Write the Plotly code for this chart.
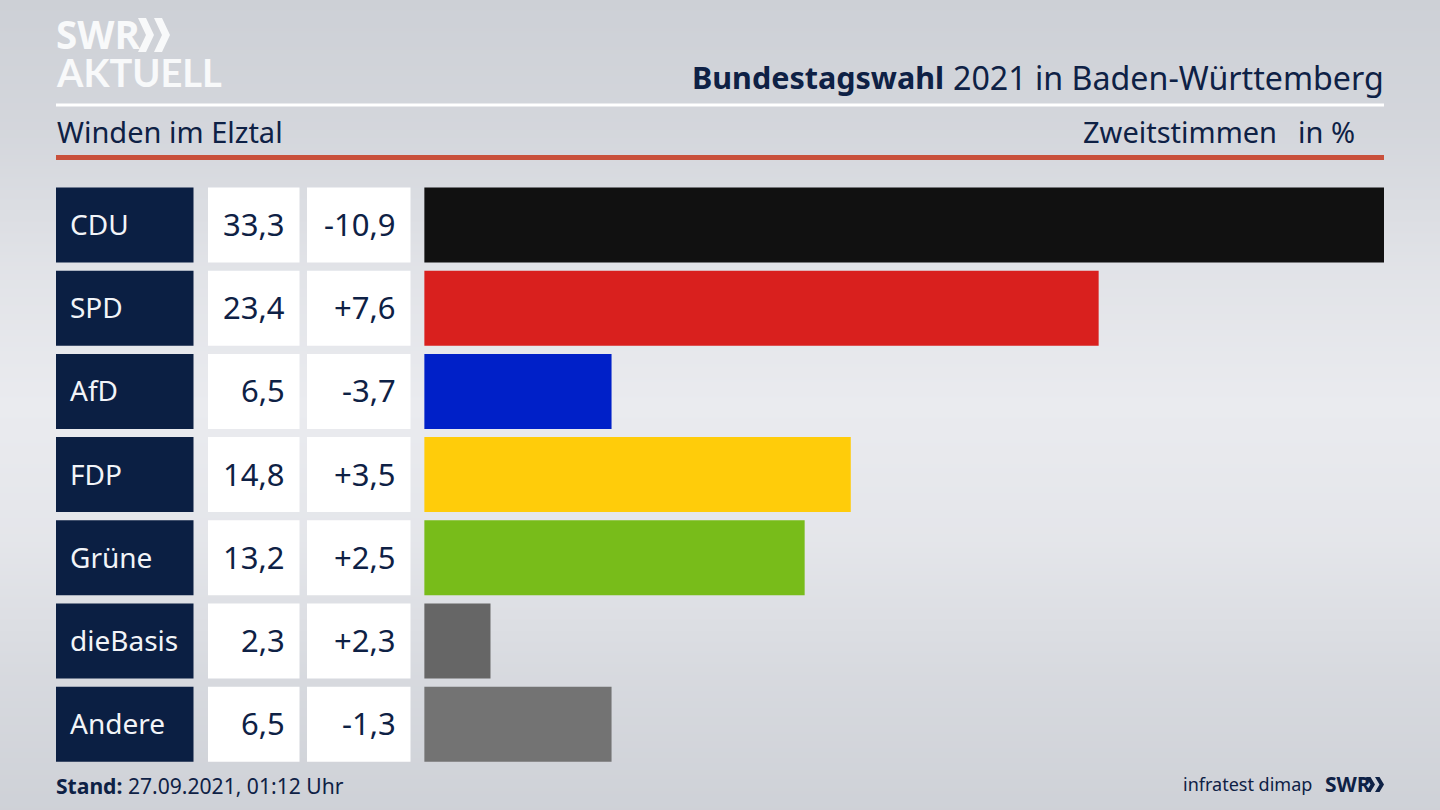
import plotly.graph_objects as go

W, H = 1440, 810
parties = ["CDU", "SPD", "AfD", "FDP", "Grüne", "dieBasis", "Andere"]
shares = [33.3, 23.4, 6.5, 14.8, 13.2, 2.3, 6.5]
changes = ["-10,9", "+7,6", "-3,7", "+3,5", "+2,5", "+2,3", "-1,3"]
bar_colors = ["#111111", "#d9201e", "#0020c8", "#ffcc0a", "#78bc1a", "#666666", "#737373"]

grad_y = [0, 135, 270, 405, 540, 675, 810]
grad_z = [0.0, 0.25, 0.7, 1.0, 0.8, 0.35, 0.05]
grad_x = [0, 1440]

NAVY = "#0e2145"
FONT = "Noto Sans"
TOP, PITCH, GAP = 187.5, 83.2, 8.2
y_top = TOP - GAP / 2
y_bot = y_top + PITCH * len(parties)

fig = go.Figure()
# background gradient
fig.add_trace(go.Heatmap(
    x=grad_x, y=grad_y, z=[[v, v] for v in grad_z], zsmooth="best",
    colorscale=[[0, "#cdd0d6"], [1, "#eaebef"]], showscale=False, hoverinfo="skip",
    xaxis="x", yaxis="y"))
# table cells
for x0, x1, col in [(56, 193.5, "#0b1f43"), (208, 299.5, "#ffffff"), (307, 410.5, "#ffffff")]:
    fig.add_trace(go.Bar(
        y=parties, x=[x1 - x0] * len(parties), base=[x0] * len(parties), orientation="h",
        marker=dict(color=col, line_width=0), xaxis="x3", yaxis="y2", hoverinfo="skip"))
# share bars
fig.add_trace(go.Bar(
    y=parties, x=shares, orientation="h", marker=dict(color=bar_colors, line_width=0),
    xaxis="x2", yaxis="y2", hovertemplate="%{y}: %{x}<extra></extra>"))

ann = []
def cell(x, y, t, anchor, color=NAVY, size=31):
    ann.append(dict(x=x, y=y, text=t, xref="x3", yref="y2", xanchor=anchor, yanchor="middle",
                    yshift=1, showarrow=False, font=dict(family=FONT, size=size, color=color)))
for p, s, c in zip(parties, shares, changes):
    cell(68, p, p, "left", "#f2f4f8", 28)
    cell(287, p, f"{s:.1f}".replace(".", ","), "right")
    cell(398, p, c, "right")

def txt(x, y, t, anchor="left", size=29, color=NAVY, family=FONT):
    ann.append(dict(x=x, y=y, text=t, xref="x", yref="y", xanchor=anchor, yanchor="middle",
                    showarrow=False, font=dict(family=family, size=size, color=color)))
txt(1386, 77, "2021 in Baden-Württemberg", "right", 32.2)
txt(946, 77, "<b>Bundestagswahl</b>", "right", 30.5)
txt(55, 131, "Winden im Elztal", "left", 29)
txt(1279, 131, "Zweitstimmen", "right", 29)
txt(1357, 131, "in %", "right", 29)
txt(54, 785, "<b>Stand:</b> 27.09.2021, 01:12 Uhr", "left", 21.1)
txt(1314, 784, "infratest dimap", "right", 18)
txt(1323, 784, "<b>SWR</b>", "left", 21, NAVY, "Open Sans")
txt(54, 34, "<b>SWR</b>", "left", 38.5, "#f8f9fa", "Open Sans")
txt(54, 72, "<b>AKTUELL</b>", "left", 38, "#f8f9fa", "Lato")

def chevrons(x, y0, y1, w, t, step, color):
    m = (y0 + y1) / 2
    out = []
    for i in range(2):
        a = x + i * step
        out.append(dict(type="path", xref="x", yref="y", line_width=0, fillcolor=color, layer="above",
                        path=f"M{a},{y0} L{a+t},{y0} L{a+t+w},{m} L{a+t},{y1} L{a},{y1} L{a+w},{m} Z"))
    return out

shapes = [
    dict(type="rect", xref="x", yref="y", x0=56, x1=1384, y0=103.5, y1=106.5, fillcolor="#ffffff", line_width=0, layer="above"),
    dict(type="rect", xref="x", yref="y", x0=56, x1=1384, y0=155, y1=160, fillcolor="#c9503c", line_width=0, layer="above"),
] + chevrons(138, 18, 52, 8, 8, 16, "#f8f9fa") + chevrons(1366, 777, 792, 4.5, 4.5, 9, NAVY)

hidden = dict(visible=False, showgrid=False, zeroline=False, fixedrange=True)
fig.update_layout(
    width=W, height=H, margin=dict(l=0, r=0, t=0, b=0), showlegend=False,
    paper_bgcolor="#dcdee3", plot_bgcolor="rgba(0,0,0,0)",
    barmode="overlay", bargap=GAP / PITCH, annotations=ann, shapes=shapes,
    xaxis=dict(domain=[0, 1], range=[0, W], anchor="y", **hidden),
    yaxis=dict(domain=[0, 1], range=[H, 0], anchor="x", **hidden),
    xaxis2=dict(domain=[424.2 / W, 1384 / W], range=[0, 33.3], anchor="y2", **hidden),
    xaxis3=dict(domain=[0, 1], range=[0, W], anchor="y2", **hidden),
    yaxis2=dict(domain=[1 - y_bot / H, 1 - y_top / H], type="category", categoryorder="array",
                categoryarray=parties, range=[len(parties) - 0.5, -0.5], anchor="x2", **hidden),
)
fig.write_html("out.html", config=dict(displayModeBar=False),
               post_script="document.body.style.margin='0';")
